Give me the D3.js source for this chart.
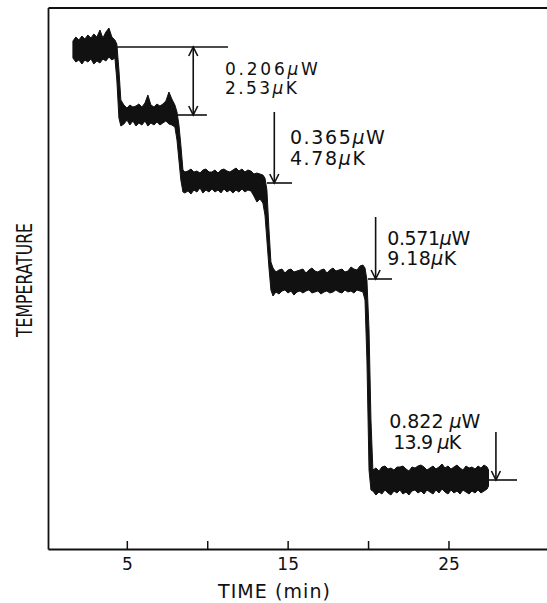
<!DOCTYPE html>
<html><head><meta charset="utf-8">
<script src="https://cdn.jsdelivr.net/npm/d3@7"></script>
<style>
html,body{margin:0;padding:0;background:#fff;}
svg{display:block;}
text{font-family:"DejaVu Sans",sans-serif;fill:#111;}
</style></head><body>
<svg id="chart" width="547" height="603"></svg>
<script>
// ---------------- DATA ----------------
// time axis ticks (min)
const timeTicks = [5, 10, 15, 20, 25];
const timeTickLabels = ["5", "", "15", "", "25"];

// Temperature trace (arbitrary units): sample times, upper and lower envelope of the noisy band
const traceTime = [
  1.65,1.83,2.02,2.21,2.39,2.58,2.77,2.95,3.14,3.33,3.51,3.70,3.89,4.07,4.26,
  4.38,4.51,4.63,
  4.82,5.01,5.19,5.38,5.57,5.75,5.94,6.13,6.31,6.50,6.69,6.87,7.06,7.24,7.43,7.62,7.80,7.99,
  8.12,8.24,8.36,8.49,8.61,
  8.80,8.99,9.17,9.36,9.55,9.73,9.92,10.11,10.29,10.48,10.67,10.85,11.04,11.23,11.41,11.60,11.79,11.97,12.16,12.34,12.53,12.72,12.90,13.09,13.28,13.46,
  13.59,13.71,13.84,13.96,
  14.09,14.27,14.46,14.65,14.83,15.02,15.21,15.39,15.58,15.77,15.95,16.14,16.32,16.51,16.70,16.88,17.07,17.26,17.44,17.63,17.82,18.00,18.19,18.38,18.56,18.75,18.94,19.12,19.31,19.50,19.68,
  19.81,19.93,20.06,20.18,
  20.30,20.49,20.68,20.86,21.05,21.24,21.42,21.61,21.80,21.98,22.17,22.36,22.54,22.73,22.92,23.10,23.29,23.48,23.66,23.85,24.04,24.22,24.41,24.60,24.78,24.97,25.16,25.34,25.53,25.72,25.90,26.09,26.28,26.46,26.65,26.84,27.02,27.21,27.40,27.49
];
const traceHigh = [
  50.8,51.2,50.9,51.3,51.0,51.4,51.1,51.5,51.2,51.9,51.1,51.7,52.1,51.2,50.9,
  50.5,47.9,44.9,
  44.4,44.1,44.4,44.2,44.3,44.5,44.2,44.6,45.4,44.4,44.2,44.5,44.3,44.5,44.8,45.7,45.0,44.4,
  43.7,42.4,40.4,37.9,37.7,
  37.8,38.0,37.7,37.8,37.6,37.9,38.0,37.7,37.7,37.9,37.6,37.9,38.0,37.8,37.7,37.9,38.1,37.8,38.0,37.7,37.9,37.8,37.5,37.6,37.5,37.4,
  37.1,35.9,31.9,28.7,
  28.1,27.7,27.9,28.0,27.6,27.9,28.0,27.7,27.8,27.9,28.0,27.6,27.9,28.1,27.8,27.7,27.9,28.0,27.6,27.9,28.1,27.8,27.9,28.0,27.7,27.8,28.2,28.0,27.9,28.3,28.4,
  28.1,26.9,21.9,12.9,
  7.9,8.1,7.8,8.2,8.3,8.0,8.1,7.9,8.2,8.2,8.3,8.0,7.8,8.2,8.1,8.3,8.4,8.2,7.9,8.1,8.3,8.0,8.2,8.5,8.1,8.3,8.0,8.2,8.4,8.1,7.9,8.3,8.1,8.2,8.0,8.3,8.1,8.4,8.2,7.9
];
const traceLow = [
  49.1,48.7,48.9,48.5,48.9,48.7,49.0,48.5,48.8,48.6,49.0,48.8,49.2,48.9,49.1,
  46.9,43.1,42.3,
  42.5,42.9,42.4,42.8,42.3,42.6,42.4,42.8,42.3,42.6,42.4,42.7,42.4,42.6,42.8,42.5,42.4,42.2,
  40.9,38.9,36.9,35.7,35.6,
  35.8,35.5,35.9,35.7,36.1,35.6,35.9,35.7,36.0,35.7,35.9,35.6,36.0,35.7,35.9,35.6,35.9,35.7,36.0,35.7,35.9,35.8,35.3,34.7,35.0,34.6,
  33.4,30.9,28.1,25.9,
  25.3,25.7,25.5,25.8,25.9,25.6,25.8,25.4,25.7,25.8,25.6,25.8,25.9,25.6,25.7,25.8,25.5,25.7,25.8,25.6,25.7,25.9,25.7,25.6,25.9,25.7,25.8,25.6,25.9,25.8,25.7,
  24.9,18.9,7.9,5.9,
  5.8,5.4,5.7,5.5,5.9,5.6,5.4,5.8,5.6,5.9,5.5,5.7,5.4,5.8,5.9,5.6,5.8,5.5,5.9,5.7,5.5,5.9,5.6,6.0,5.7,5.5,5.9,5.6,5.8,5.5,5.9,5.7,5.5,5.8,5.6,5.9,5.6,5.8,6.0,6.3
];

// Step marker lines (mean level of each plateau) and their time extents
const markLevels = [50.2, 43.4, 36.6, 27.0, 6.9];
const markStart  = [4.39, 8.18, 13.71, 19.99, 27.46];
const markEnd    = [11.29, 9.98, 15.27, 21.49, 29.26];

// Arrows: time position, start level, end level
const arrowTime   = [9.13, 14.17, 20.47, 27.95];
const arrowFrom   = [50.2, 43.7, 33.2, 11.7];
const arrowTo     = [43.4, 36.6, 27.0, 6.9];
const arrowDouble = [true, false, false, false];

// Annotations: heater power (µW) and temperature step (µK)
const powerValues = ["0.206", "0.365", "0.571", "0.822"];
const tempValues  = ["2.53", "4.78", "9.18", "13.9"];

// ---------------- LAYOUT ----------------
const labelLayout = [
  {t: 11.10, v1: 47.4, v2: 45.5, t2: 11.10, w1: 93, w2: 72, size: 17, gap: ""},
  {t: 15.14, v1: 40.5, v2: 38.4, t2: 15.14, w1: 95, w2: 75, size: 19, gap: ""},
  {t: 21.19, v1: 30.4, v2: 28.4, t2: 21.19, w1: 83, w2: 69, size: 19, gap: ""},
  {t: 21.32, v1: 12.15, v2: 10.0, t2: 21.57, w1: 91, w2: 68, size: 19, gap: " "}
];
const ink = "#111";

const svg = d3.select("#chart");
const x = d3.scaleLinear().domain([0.1, 31.25]).range([48, 549]);
const y = d3.scaleLinear().domain([0, 54.15]).range([549, 7.5]);

// frame: bottom axis with inward ticks
const gx = svg.append("g")
  .attr("transform", `translate(0,${y(0)})`)
  .call(d3.axisBottom(x).tickValues(timeTicks).tickSize(-8).tickSizeOuter(0).tickPadding(9)
        .tickFormat((d, i) => timeTickLabels[i]));
gx.select(".domain").attr("stroke", ink).attr("stroke-width", 1.8);
gx.selectAll(".tick line").attr("stroke", ink).attr("stroke-width", 1.5);
gx.selectAll(".tick text").attr("font-size", 17);

const gl = svg.append("g").attr("transform", `translate(${x(0.1)},0)`)
  .call(d3.axisLeft(y).tickValues([]).tickSizeOuter(0));
gl.select(".domain").attr("stroke", ink).attr("stroke-width", 1.8);
const gt = svg.append("g").attr("transform", `translate(0,${y(54.15)})`)
  .call(d3.axisTop(x).tickValues([]).tickSizeOuter(0));
gt.select(".domain").attr("stroke", ink).attr("stroke-width", 1.8);

// axis titles
svg.append("text")
  .attr("transform", `translate(32,280) rotate(-90)`)
  .attr("text-anchor", "middle").attr("font-size", 22)
  .attr("textLength", 114).attr("lengthAdjust", "spacingAndGlyphs")
  .text("TEMPERATURE");
svg.append("text")
  .attr("x", 274).attr("y", 598).attr("text-anchor", "middle").attr("font-size", 19)
  .attr("textLength", 112).attr("lengthAdjust", "spacing")
  .text("TIME (min)");

// trace
const trace = traceTime.map((t, i) => ({t, hi: traceHigh[i], lo: traceLow[i]}));
svg.append("path").datum(trace)
  .attr("d", d3.area().x(d => x(d.t)).y0(d => y(d.lo)).y1(d => y(d.hi)))
  .attr("fill", ink).attr("stroke", ink).attr("stroke-width", 1);

// marker lines
markLevels.forEach((v, i) => {
  svg.append("line")
    .attr("x1", x(markStart[i])).attr("x2", x(markEnd[i]))
    .attr("y1", y(v)).attr("y2", y(v))
    .attr("stroke", ink).attr("stroke-width", 1.6);
});

// arrows
const headW = 4.5, headL = 9;
arrowTime.forEach((t, i) => {
  const ax = x(t), y0 = y(arrowFrom[i]), y1 = y(arrowTo[i]);
  const g = svg.append("g").attr("stroke", ink).attr("stroke-width", 1.6).attr("fill", "none");
  g.append("line").attr("x1", ax).attr("x2", ax).attr("y1", y0).attr("y2", y1);
  g.append("path").attr("d", `M${ax - headW},${y1 - headL}L${ax},${y1}L${ax + headW},${y1 - headL}`);
  if (arrowDouble[i]) {
    g.append("path").attr("d", `M${ax - headW},${y0 + headL}L${ax},${y0}L${ax + headW},${y0 + headL}`);
  }
});

// labels
labelLayout.forEach((L, i) => {
  const t1 = svg.append("text").attr("x", x(L.t)).attr("y", y(L.v1))
    .attr("font-size", L.size).attr("textLength", L.w1).attr("lengthAdjust", "spacing");
  t1.append("tspan").text(powerValues[i] + L.gap);
  t1.append("tspan").attr("font-style", "italic").text("μ");
  t1.append("tspan").text("W");
  const t2 = svg.append("text").attr("x", x(L.t2)).attr("y", y(L.v2))
    .attr("font-size", L.size).attr("textLength", L.w2).attr("lengthAdjust", "spacing");
  t2.append("tspan").text(tempValues[i] + L.gap);
  t2.append("tspan").attr("font-style", "italic").text("μ");
  t2.append("tspan").text("K");
});
</script>
</body></html>
